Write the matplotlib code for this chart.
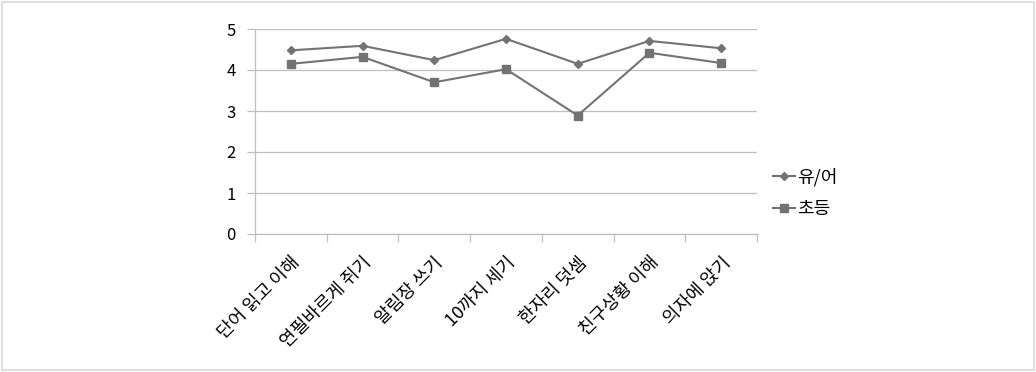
import matplotlib.pyplot as plt
import numpy as np
from matplotlib.patches import Rectangle

plt.rcParams['font.family'] = ['Noto Sans CJK KR', 'DejaVu Sans']

categories = ['단어 읽고 이해', '연필바르게 쥐기', '알림장 쓰기', '10까지 세기',
              '한자리 덧셈', '친구상황 이해', '의자에 앉기']
preschool = [4.48, 4.59, 4.24, 4.76, 4.15, 4.71, 4.53]
elementary = [4.15, 4.32, 3.70, 4.02, 2.89, 4.42, 4.17]
series_names = ['유/어', '초등']

line_color = '#737373'
grid_color = '#bfbfbf'

fig = plt.figure(figsize=(10.36, 3.72), dpi=100)
ax = fig.add_axes([255 / 1036, 1 - 234 / 372, (757 - 255) / 1036, (234 - 29) / 372])

x = np.arange(len(categories))
ax.plot(x, preschool, color=line_color, lw=1.5, marker='D', ms=4,
        mfc=line_color, mec=line_color, label=series_names[0])
ax.plot(x, elementary, color=line_color, lw=1.5, marker='s', ms=6,
        mfc=line_color, mec=line_color, label=series_names[1])

ax.set_xlim(-0.5, len(categories) - 0.5)
ax.set_ylim(0, 5)
ax.set_yticks(range(6))
ax.yaxis.grid(True, color=grid_color, lw=0.9)
ax.set_axisbelow(True)

# category labels on major ticks, tick marks on the boundaries between them
ax.set_xticks(x)
ax.set_xticklabels(categories, rotation=45, ha='right', rotation_mode='anchor', fontsize=13)
ax.set_xticks(np.arange(-0.5, len(categories)), minor=True)
ax.tick_params(axis='x', which='major', length=0, pad=14)
ax.tick_params(axis='x', which='minor', length=6, color=grid_color, width=0.9)
ax.tick_params(axis='y', length=6, color=grid_color, width=0.9, labelsize=12, pad=8)

for side in ['top', 'right']:
    ax.spines[side].set_visible(False)
for side in ['left', 'bottom']:
    ax.spines[side].set_color(grid_color)
    ax.spines[side].set_linewidth(0.9)

ax.legend(loc='center left', bbox_to_anchor=(1.0, 0.2), frameon=False,
          fontsize=13, handlelength=1.2, handletextpad=0.15, labelspacing=0.75)

# thin frame round the whole figure
fig.patches.append(Rectangle((2 / 1036, 2 / 372), 1 - 4 / 1036, 1 - 4 / 372,
                             transform=fig.transFigure, fill=False,
                             edgecolor='#d9d9d9', lw=1.2))

fig.savefig('out.png', dpi=100)
